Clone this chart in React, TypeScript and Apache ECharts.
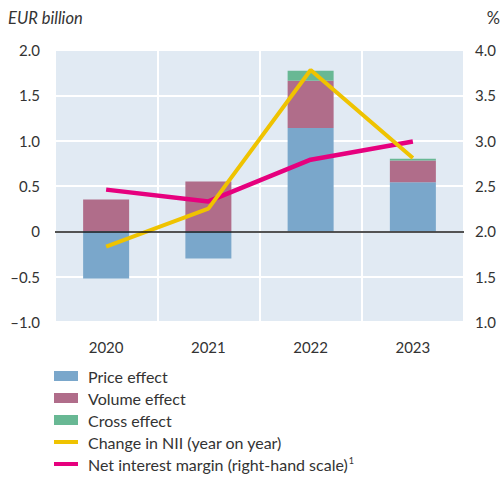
import React, { useEffect, useRef } from "react";
import * as echarts from "echarts";

const categories = ["2020", "2021", "2022", "2023"];
const priceEffect = [-0.52, -0.3, 1.14, 0.54];
const volumeEffect = [0.35, 0.55, 0.52, 0.24];
const crossEffect = [0, 0, 0.11, 0.02];
const niiChange = [-0.17, 0.25, 1.78, 0.81];
const netInterestMargin = [2.46, 2.33, 2.79, 2.99];

const FONT = "Lato, 'Open Sans', sans-serif";
const TXT = "#333333";
const NIM = "Net interest margin (right-hand scale)";
const LINE_ICON = "path://M0,0 L24,0 L24,4 L0,4 Z";

const fmt = (v: number) => {
  if (Math.abs(v) < 1e-9) return "0";
  return v.toFixed(1).replace("-", "\u2013");
};

export default function App() {
  const ref = useRef<HTMLDivElement>(null);
  useEffect(() => {
    document.body.style.margin = "0";
    const chart = echarts.init(ref.current!, null, { renderer: "svg" });
    chart.setOption({
      animation: false,
      grid: {
        left: 55,
        right: 39,
        top: 50,
        bottom: 155,
        show: true,
        backgroundColor: "#e1eaf3",
        borderWidth: 0,
      },
      graphic: [
        {
          type: "text",
          left: 8,
          top: 9,
          style: { text: "EUR billion", font: `italic 16.5px ${FONT}`, fill: TXT },
        },
        {
          type: "text",
          right: 3,
          top: 9,
          style: { text: "%", font: `16.5px ${FONT}`, fill: TXT },
        },
      ],
      legend: {
        orient: "vertical",
        left: 54,
        top: 365,
        padding: 0,
        itemWidth: 24,
        itemHeight: 10,
        itemGap: 0,
        symbolKeepAspect: true,
        textStyle: {
          fontFamily: FONT,
          fontSize: 16,
          color: TXT,
          lineHeight: 22,
          padding: [0, 0, 0, 5],
          rich: {
            sup: {
              fontFamily: FONT,
              fontSize: 9,
              color: TXT,
              lineHeight: 22,
              padding: [0, 0, 8, 1],
            },
          },
        },
        data: [
          { name: "Price effect", icon: "rect" },
          { name: "Volume effect", icon: "rect" },
          { name: "Cross effect", icon: "rect" },
          { name: "Change in NII (year on year)", icon: LINE_ICON },
          { name: NIM, icon: LINE_ICON },
        ],
        formatter: (name: string) => (name === NIM ? name + "{sup|1}" : name),
      },
      xAxis: {
        type: "category",
        data: categories,
        boundaryGap: true,
        axisLine: { show: false },
        axisTick: { show: false },
        axisLabel: { fontFamily: FONT, fontSize: 15, color: TXT, margin: 17 },
        splitLine: { show: true, lineStyle: { color: "#ffffff", width: 2 } },
      },
      yAxis: [
        {
          type: "value",
          min: -1,
          max: 2,
          interval: 0.5,
          axisLine: { show: false },
          axisTick: { show: false },
          axisLabel: {
            fontFamily: FONT,
            fontSize: 15,
            color: TXT,
            margin: 15,
            formatter: fmt,
          },
          splitLine: { show: true, lineStyle: { color: "#ffffff", width: 2 } },
        },
        {
          type: "value",
          min: 1,
          max: 4,
          interval: 0.5,
          axisLine: { show: false },
          axisTick: { show: false },
          axisLabel: {
            fontFamily: FONT,
            fontSize: 15,
            color: TXT,
            margin: 11,
            formatter: (v: number) => v.toFixed(1),
          },
          splitLine: { show: false },
        },
      ],
      series: [
        {
          name: "Price effect",
          type: "bar",
          stack: "e",
          barWidth: 46,
          data: priceEffect,
          itemStyle: { color: "#7aa7cb" },
          markLine: {
            silent: true,
            symbol: "none",
            label: { show: false },
            lineStyle: { color: "#1a1a1a", width: 1.5, type: "solid" },
            data: [{ yAxis: 0 }],
          },
        },
        {
          name: "Volume effect",
          type: "bar",
          stack: "e",
          barWidth: 46,
          data: volumeEffect,
          itemStyle: { color: "#b06d8a" },
        },
        {
          name: "Cross effect",
          type: "bar",
          stack: "e",
          barWidth: 46,
          data: crossEffect,
          itemStyle: { color: "#68b894" },
        },
        {
          name: "Change in NII (year on year)",
          type: "line",
          data: niiChange,
          symbol: "none",
          lineStyle: { color: "#efc300", width: 4 },
          itemStyle: { color: "#efc300" },
          z: 4,
        },
        {
          name: NIM,
          type: "line",
          yAxisIndex: 1,
          data: netInterestMargin,
          symbol: "none",
          lineStyle: { color: "#e6007e", width: 4.5 },
          itemStyle: { color: "#e6007e" },
          z: 3,
        },
      ],
    });
    return () => chart.dispose();
  }, []);
  return <div ref={ref} style={{ width: 503, height: 477 }} />;
}
